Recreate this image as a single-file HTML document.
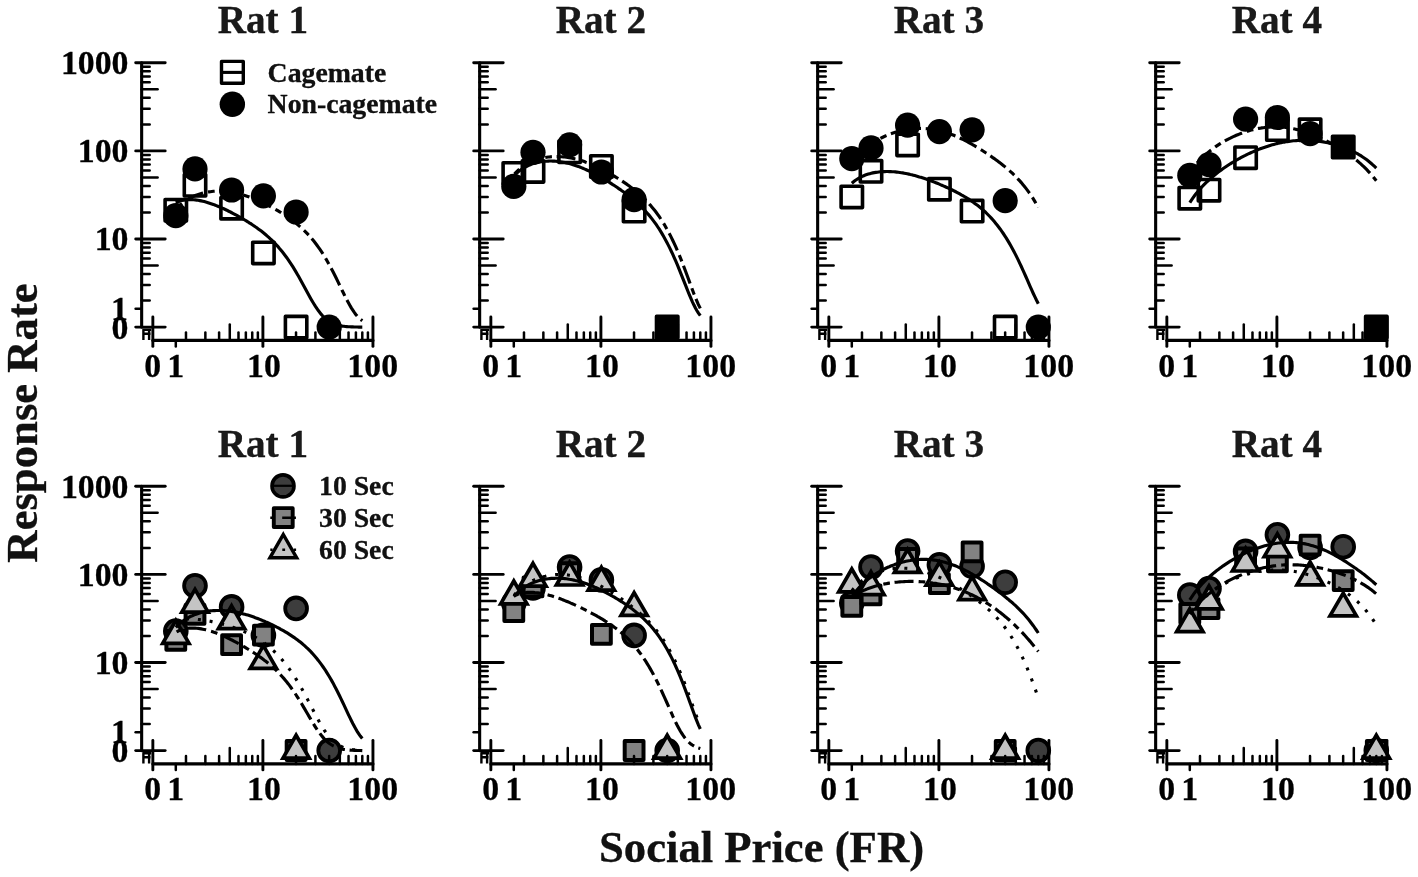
<!DOCTYPE html>
<html><head><meta charset="utf-8"><title>Figure</title>
<style>html,body{margin:0;padding:0;background:#fff}svg{display:block;will-change:transform}text{font-family:"Liberation Serif",serif;font-weight:bold;fill:#000;stroke:#000;stroke-width:0.3px}.tk{font-size:33.8px}.tt{font-size:39.2px;fill:#1a1a1a}.lg{font-size:27.75px;fill:#111}.ax{font-size:44.7px;fill:#111}</style></head><body>
<svg width="1418" height="877" viewBox="0 0 1418 877">
<rect width="1418" height="877" fill="#fff"/>
<defs><g id="ax" stroke="#000" stroke-linecap="round"><line x1="141.65" y1="62.80" x2="141.65" y2="327.10" stroke-width="3.1"/>
<line x1="152.85" y1="340.40" x2="372.95" y2="340.40" stroke-width="3.1"/>
<line x1="135.70" y1="327.10" x2="165.20" y2="327.10" stroke-width="2.9"/>
<line x1="135.70" y1="239.00" x2="165.20" y2="239.00" stroke-width="2.9"/>
<line x1="135.70" y1="150.90" x2="165.20" y2="150.90" stroke-width="2.9"/>
<line x1="135.70" y1="62.80" x2="165.20" y2="62.80" stroke-width="2.9"/>
<line x1="141.65" y1="300.58" x2="149.70" y2="300.58" stroke-width="2.5"/>
<line x1="141.65" y1="285.07" x2="149.70" y2="285.07" stroke-width="2.5"/>
<line x1="141.65" y1="274.06" x2="149.70" y2="274.06" stroke-width="2.5"/>
<line x1="141.65" y1="265.52" x2="157.60" y2="265.52" stroke-width="2.5"/>
<line x1="141.65" y1="258.54" x2="149.70" y2="258.54" stroke-width="2.5"/>
<line x1="141.65" y1="252.65" x2="149.70" y2="252.65" stroke-width="2.5"/>
<line x1="141.65" y1="247.54" x2="149.70" y2="247.54" stroke-width="2.5"/>
<line x1="141.65" y1="243.03" x2="149.70" y2="243.03" stroke-width="2.5"/>
<line x1="141.65" y1="212.48" x2="149.70" y2="212.48" stroke-width="2.5"/>
<line x1="141.65" y1="196.97" x2="149.70" y2="196.97" stroke-width="2.5"/>
<line x1="141.65" y1="185.96" x2="149.70" y2="185.96" stroke-width="2.5"/>
<line x1="141.65" y1="177.42" x2="157.60" y2="177.42" stroke-width="2.5"/>
<line x1="141.65" y1="170.44" x2="149.70" y2="170.44" stroke-width="2.5"/>
<line x1="141.65" y1="164.55" x2="149.70" y2="164.55" stroke-width="2.5"/>
<line x1="141.65" y1="159.44" x2="149.70" y2="159.44" stroke-width="2.5"/>
<line x1="141.65" y1="154.93" x2="149.70" y2="154.93" stroke-width="2.5"/>
<line x1="141.65" y1="124.38" x2="149.70" y2="124.38" stroke-width="2.5"/>
<line x1="141.65" y1="108.87" x2="149.70" y2="108.87" stroke-width="2.5"/>
<line x1="141.65" y1="97.86" x2="149.70" y2="97.86" stroke-width="2.5"/>
<line x1="141.65" y1="89.32" x2="157.60" y2="89.32" stroke-width="2.5"/>
<line x1="141.65" y1="82.34" x2="149.70" y2="82.34" stroke-width="2.5"/>
<line x1="141.65" y1="76.45" x2="149.70" y2="76.45" stroke-width="2.5"/>
<line x1="141.65" y1="71.34" x2="149.70" y2="71.34" stroke-width="2.5"/>
<line x1="141.65" y1="66.83" x2="149.70" y2="66.83" stroke-width="2.5"/>
<line x1="135.60" y1="308.70" x2="141.65" y2="308.70" stroke-width="2.5"/>
<line x1="152.85" y1="317.00" x2="152.85" y2="346.40" stroke-width="2.9"/>
<line x1="262.90" y1="317.00" x2="262.90" y2="346.40" stroke-width="2.9"/>
<line x1="372.95" y1="317.00" x2="372.95" y2="346.40" stroke-width="2.9"/>
<line x1="185.98" y1="332.40" x2="185.98" y2="340.40" stroke-width="2.5"/>
<line x1="205.36" y1="332.40" x2="205.36" y2="340.40" stroke-width="2.5"/>
<line x1="219.11" y1="332.40" x2="219.11" y2="340.40" stroke-width="2.5"/>
<line x1="229.77" y1="324.40" x2="229.77" y2="340.40" stroke-width="2.5"/>
<line x1="238.49" y1="332.40" x2="238.49" y2="340.40" stroke-width="2.5"/>
<line x1="245.85" y1="332.40" x2="245.85" y2="340.40" stroke-width="2.5"/>
<line x1="252.24" y1="332.40" x2="252.24" y2="340.40" stroke-width="2.5"/>
<line x1="257.86" y1="332.40" x2="257.86" y2="340.40" stroke-width="2.5"/>
<line x1="296.03" y1="332.40" x2="296.03" y2="340.40" stroke-width="2.5"/>
<line x1="315.41" y1="332.40" x2="315.41" y2="340.40" stroke-width="2.5"/>
<line x1="329.16" y1="332.40" x2="329.16" y2="340.40" stroke-width="2.5"/>
<line x1="339.82" y1="324.40" x2="339.82" y2="340.40" stroke-width="2.5"/>
<line x1="348.54" y1="332.40" x2="348.54" y2="340.40" stroke-width="2.5"/>
<line x1="355.90" y1="332.40" x2="355.90" y2="340.40" stroke-width="2.5"/>
<line x1="362.29" y1="332.40" x2="362.29" y2="340.40" stroke-width="2.5"/>
<line x1="367.91" y1="332.40" x2="367.91" y2="340.40" stroke-width="2.5"/>
<line x1="175.80" y1="340.40" x2="175.80" y2="346.40" stroke-width="2.5"/>
<path d="M142.3 329.7H151.2 M143.4 329.7V340 M149.1 329.7V340 M143.4 333.8H150.6" stroke-width="2.4" fill="none" stroke-linecap="butt"/></g><g id="xl"><text x="152.7" y="376.6" text-anchor="middle" class="tk">0</text>
<text x="175.7" y="376.6" text-anchor="middle" class="tk">1</text>
<text x="263.9" y="376.6" text-anchor="middle" class="tk">10</text>
<text x="372.7" y="376.6" text-anchor="middle" class="tk">100</text></g><g id="yl"><text x="128.5" y="338.55" text-anchor="end" class="tk">0</text>
<text x="128.5" y="250.45" text-anchor="end" class="tk">10</text>
<text x="128.5" y="162.35" text-anchor="end" class="tk">100</text>
<text x="128.5" y="74.25" text-anchor="end" class="tk">1000</text>
<text x="128.0" y="319.95" text-anchor="end" class="tk">1</text></g></defs>
<g><rect x="165.1" y="199.5" width="21.4" height="21.4" fill="none" stroke="#000" stroke-width="3.6" stroke-linejoin="round"/><rect x="184.3" y="174.6" width="21.4" height="21.4" fill="none" stroke="#000" stroke-width="3.6" stroke-linejoin="round"/><rect x="220.9" y="197.5" width="21.4" height="21.4" fill="none" stroke="#000" stroke-width="3.6" stroke-linejoin="round"/><rect x="252.7" y="242.2" width="21.4" height="21.4" fill="none" stroke="#000" stroke-width="3.6" stroke-linejoin="round"/><rect x="285.4" y="316.4" width="21.4" height="21.4" fill="none" stroke="#000" stroke-width="3.6" stroke-linejoin="round"/><circle cx="175.8" cy="215.7" r="12.6" fill="#000"/><circle cx="195" cy="168.9" r="12.6" fill="#000"/><circle cx="231.6" cy="190" r="12.6" fill="#000"/><circle cx="263.4" cy="195.8" r="12.6" fill="#000"/><circle cx="296.1" cy="212" r="12.6" fill="#000"/><circle cx="329.2" cy="327.1" r="12.6" fill="#000"/></g>
<g><rect x="503.1" y="162.7" width="21.4" height="21.4" fill="none" stroke="#000" stroke-width="3.6" stroke-linejoin="round"/><rect x="522.3" y="160.7" width="21.4" height="21.4" fill="none" stroke="#000" stroke-width="3.6" stroke-linejoin="round"/><rect x="558.9" y="141.1" width="21.4" height="21.4" fill="none" stroke="#000" stroke-width="3.6" stroke-linejoin="round"/><rect x="590.7" y="155.8" width="21.4" height="21.4" fill="none" stroke="#000" stroke-width="3.6" stroke-linejoin="round"/><rect x="623.4" y="200.4" width="21.4" height="21.4" fill="none" stroke="#000" stroke-width="3.6" stroke-linejoin="round"/><rect x="656.5" y="316.4" width="21.4" height="21.4" fill="#000" stroke="#000" stroke-width="3.6" stroke-linejoin="round"/><circle cx="513.8" cy="186.4" r="12.6" fill="#000"/><circle cx="533" cy="152.3" r="12.6" fill="#000"/><circle cx="569.6" cy="144.8" r="12.6" fill="#000"/><circle cx="601.4" cy="172" r="12.6" fill="#000"/><circle cx="634.1" cy="199.6" r="12.6" fill="#000"/></g>
<g><rect x="841.1" y="186.2" width="21.4" height="21.4" fill="none" stroke="#000" stroke-width="3.6" stroke-linejoin="round"/><rect x="860.3" y="160.6" width="21.4" height="21.4" fill="none" stroke="#000" stroke-width="3.6" stroke-linejoin="round"/><rect x="896.9" y="134.2" width="21.4" height="21.4" fill="none" stroke="#000" stroke-width="3.6" stroke-linejoin="round"/><rect x="928.7" y="178.5" width="21.4" height="21.4" fill="none" stroke="#000" stroke-width="3.6" stroke-linejoin="round"/><rect x="961.4" y="200.4" width="21.4" height="21.4" fill="none" stroke="#000" stroke-width="3.6" stroke-linejoin="round"/><rect x="994.5" y="316.4" width="21.4" height="21.4" fill="none" stroke="#000" stroke-width="3.6" stroke-linejoin="round"/><circle cx="851.8" cy="158.7" r="12.6" fill="#000"/><circle cx="871" cy="147.9" r="12.6" fill="#000"/><circle cx="907.6" cy="125.2" r="12.6" fill="#000"/><circle cx="939.4" cy="131.6" r="12.6" fill="#000"/><circle cx="972.1" cy="129.8" r="12.6" fill="#000"/><circle cx="1005.2" cy="200.7" r="12.6" fill="#000"/><circle cx="1038.3" cy="327.1" r="12.6" fill="#000"/></g>
<g><rect x="1179.1" y="187.5" width="21.4" height="21.4" fill="none" stroke="#000" stroke-width="3.6" stroke-linejoin="round"/><rect x="1198.3" y="179.5" width="21.4" height="21.4" fill="none" stroke="#000" stroke-width="3.6" stroke-linejoin="round"/><rect x="1234.9" y="147" width="21.4" height="21.4" fill="none" stroke="#000" stroke-width="3.6" stroke-linejoin="round"/><rect x="1266.7" y="118.9" width="21.4" height="21.4" fill="none" stroke="#000" stroke-width="3.6" stroke-linejoin="round"/><rect x="1299.4" y="119.1" width="21.4" height="21.4" fill="none" stroke="#000" stroke-width="3.6" stroke-linejoin="round"/><rect x="1332.5" y="136.3" width="21.4" height="21.4" fill="#000" stroke="#000" stroke-width="3.6" stroke-linejoin="round"/><rect x="1365.6" y="316.4" width="21.4" height="21.4" fill="#000" stroke="#000" stroke-width="3.6" stroke-linejoin="round"/><circle cx="1189.8" cy="175.4" r="12.6" fill="#000"/><circle cx="1209" cy="164.7" r="12.6" fill="#000"/><circle cx="1245.6" cy="119.1" r="12.6" fill="#000"/><circle cx="1277.4" cy="117.5" r="12.6" fill="#000"/><circle cx="1310.1" cy="133.7" r="12.6" fill="#000"/></g>
<g><circle cx="175.8" cy="631" r="10.9" fill="#3d3d3d" stroke="#000" stroke-width="3.8"/><circle cx="195" cy="585.7" r="10.9" fill="#3d3d3d" stroke="#000" stroke-width="3.8"/><circle cx="231.6" cy="606.9" r="10.9" fill="#3d3d3d" stroke="#000" stroke-width="3.8"/><circle cx="263.4" cy="635.2" r="10.9" fill="#3d3d3d" stroke="#000" stroke-width="3.8"/><circle cx="296.1" cy="608.4" r="10.9" fill="#3d3d3d" stroke="#000" stroke-width="3.8"/><circle cx="329.2" cy="750.5" r="10.9" fill="#3d3d3d" stroke="#000" stroke-width="3.8"/><rect x="166.4" y="631" width="18.8" height="18.8" fill="#828282" stroke="#000" stroke-width="4.0" stroke-linejoin="round"/><rect x="185.6" y="605" width="18.8" height="18.8" fill="#828282" stroke="#000" stroke-width="4.0" stroke-linejoin="round"/><rect x="222.2" y="635.3" width="18.8" height="18.8" fill="#828282" stroke="#000" stroke-width="4.0" stroke-linejoin="round"/><rect x="254" y="625.8" width="18.8" height="18.8" fill="#828282" stroke="#000" stroke-width="4.0" stroke-linejoin="round"/><rect x="286.7" y="741.1" width="18.8" height="18.8" fill="#828282" stroke="#000" stroke-width="4.0" stroke-linejoin="round"/><path d="M175.8 620.5 L189 643.3 L162.7 643.3Z" fill="#c4c4c4" stroke="#000" stroke-width="3.7"/><path d="M195 589.4 L208.1 612.2 L181.8 612.2Z" fill="#c4c4c4" stroke="#000" stroke-width="3.7"/><path d="M231.6 605.8 L244.7 628.6 L218.4 628.6Z" fill="#c4c4c4" stroke="#000" stroke-width="3.7"/><path d="M263.4 645.6 L276.5 668.4 L250.2 668.4Z" fill="#c4c4c4" stroke="#000" stroke-width="3.7"/><path d="M296.1 735.3 L309.3 758.1 L283 758.1Z" fill="#c4c4c4" stroke="#000" stroke-width="3.7"/></g>
<g><circle cx="513.8" cy="603" r="10.9" fill="#3d3d3d" stroke="#000" stroke-width="3.8"/><circle cx="533" cy="588" r="10.9" fill="#3d3d3d" stroke="#000" stroke-width="3.8"/><circle cx="569.6" cy="567.1" r="10.9" fill="#3d3d3d" stroke="#000" stroke-width="3.8"/><circle cx="601.4" cy="579.9" r="10.9" fill="#3d3d3d" stroke="#000" stroke-width="3.8"/><circle cx="634.1" cy="635.4" r="10.9" fill="#3d3d3d" stroke="#000" stroke-width="3.8"/><circle cx="667.2" cy="750.5" r="10.9" fill="#3d3d3d" stroke="#000" stroke-width="3.8"/><rect x="504.4" y="602.3" width="18.8" height="18.8" fill="#828282" stroke="#000" stroke-width="4.0" stroke-linejoin="round"/><rect x="523.6" y="577.5" width="18.8" height="18.8" fill="#828282" stroke="#000" stroke-width="4.0" stroke-linejoin="round"/><rect x="560.2" y="563.3" width="18.8" height="18.8" fill="#828282" stroke="#000" stroke-width="4.0" stroke-linejoin="round"/><rect x="592" y="624.9" width="18.8" height="18.8" fill="#828282" stroke="#000" stroke-width="4.0" stroke-linejoin="round"/><rect x="624.7" y="741.1" width="18.8" height="18.8" fill="#828282" stroke="#000" stroke-width="4.0" stroke-linejoin="round"/><path d="M513.8 581 L527 603.8 L500.7 603.8Z" fill="#c4c4c4" stroke="#000" stroke-width="3.7"/><path d="M533 563.3 L546.1 586.1 L519.8 586.1Z" fill="#c4c4c4" stroke="#000" stroke-width="3.7"/><path d="M569.6 562.2 L582.7 585 L556.4 585Z" fill="#c4c4c4" stroke="#000" stroke-width="3.7"/><path d="M601.4 567.3 L614.5 590.1 L588.2 590.1Z" fill="#c4c4c4" stroke="#000" stroke-width="3.7"/><path d="M634.1 592.6 L647.3 615.4 L621 615.4Z" fill="#c4c4c4" stroke="#000" stroke-width="3.7"/><path d="M667.2 735.3 L680.4 758.1 L654 758.1Z" fill="#c4c4c4" stroke="#000" stroke-width="3.7"/></g>
<g><circle cx="851.8" cy="603" r="10.9" fill="#3d3d3d" stroke="#000" stroke-width="3.8"/><circle cx="871" cy="567.1" r="10.9" fill="#3d3d3d" stroke="#000" stroke-width="3.8"/><circle cx="907.6" cy="551.1" r="10.9" fill="#3d3d3d" stroke="#000" stroke-width="3.8"/><circle cx="939.4" cy="564.7" r="10.9" fill="#3d3d3d" stroke="#000" stroke-width="3.8"/><circle cx="972.1" cy="566.3" r="10.9" fill="#3d3d3d" stroke="#000" stroke-width="3.8"/><circle cx="1005.2" cy="582.3" r="10.9" fill="#3d3d3d" stroke="#000" stroke-width="3.8"/><circle cx="1038.3" cy="750.5" r="10.9" fill="#3d3d3d" stroke="#000" stroke-width="3.8"/><rect x="842.4" y="597" width="18.8" height="18.8" fill="#828282" stroke="#000" stroke-width="4.0" stroke-linejoin="round"/><rect x="861.6" y="585.5" width="18.8" height="18.8" fill="#828282" stroke="#000" stroke-width="4.0" stroke-linejoin="round"/><rect x="898.2" y="548.9" width="18.8" height="18.8" fill="#828282" stroke="#000" stroke-width="4.0" stroke-linejoin="round"/><rect x="930" y="574.3" width="18.8" height="18.8" fill="#828282" stroke="#000" stroke-width="4.0" stroke-linejoin="round"/><rect x="962.7" y="542.4" width="18.8" height="18.8" fill="#828282" stroke="#000" stroke-width="4.0" stroke-linejoin="round"/><rect x="995.8" y="741.1" width="18.8" height="18.8" fill="#828282" stroke="#000" stroke-width="4.0" stroke-linejoin="round"/><path d="M851.8 569 L865 591.8 L838.7 591.8Z" fill="#c4c4c4" stroke="#000" stroke-width="3.7"/><path d="M871 571.8 L884.1 594.6 L857.8 594.6Z" fill="#c4c4c4" stroke="#000" stroke-width="3.7"/><path d="M907.6 549.5 L920.7 572.3 L894.4 572.3Z" fill="#c4c4c4" stroke="#000" stroke-width="3.7"/><path d="M939.4 562.3 L952.5 585.1 L926.2 585.1Z" fill="#c4c4c4" stroke="#000" stroke-width="3.7"/><path d="M972.1 576.9 L985.3 599.7 L959 599.7Z" fill="#c4c4c4" stroke="#000" stroke-width="3.7"/><path d="M1005.2 735.3 L1018.4 758.1 L992 758.1Z" fill="#c4c4c4" stroke="#000" stroke-width="3.7"/></g>
<g><circle cx="1189.8" cy="595" r="10.9" fill="#3d3d3d" stroke="#000" stroke-width="3.8"/><circle cx="1209" cy="588.6" r="10.9" fill="#3d3d3d" stroke="#000" stroke-width="3.8"/><circle cx="1245.6" cy="551.4" r="10.9" fill="#3d3d3d" stroke="#000" stroke-width="3.8"/><circle cx="1277.4" cy="534.8" r="10.9" fill="#3d3d3d" stroke="#000" stroke-width="3.8"/><circle cx="1310.1" cy="547.4" r="10.9" fill="#3d3d3d" stroke="#000" stroke-width="3.8"/><circle cx="1343.2" cy="546.7" r="10.9" fill="#3d3d3d" stroke="#000" stroke-width="3.8"/><circle cx="1376.3" cy="750.5" r="10.9" fill="#3d3d3d" stroke="#000" stroke-width="3.8"/><rect x="1180.4" y="604.1" width="18.8" height="18.8" fill="#828282" stroke="#000" stroke-width="4.0" stroke-linejoin="round"/><rect x="1199.6" y="599.3" width="18.8" height="18.8" fill="#828282" stroke="#000" stroke-width="4.0" stroke-linejoin="round"/><rect x="1236.2" y="548.6" width="18.8" height="18.8" fill="#828282" stroke="#000" stroke-width="4.0" stroke-linejoin="round"/><rect x="1268" y="552.4" width="18.8" height="18.8" fill="#828282" stroke="#000" stroke-width="4.0" stroke-linejoin="round"/><rect x="1300.7" y="535.7" width="18.8" height="18.8" fill="#828282" stroke="#000" stroke-width="4.0" stroke-linejoin="round"/><rect x="1333.8" y="571.3" width="18.8" height="18.8" fill="#828282" stroke="#000" stroke-width="4.0" stroke-linejoin="round"/><rect x="1366.9" y="741.1" width="18.8" height="18.8" fill="#828282" stroke="#000" stroke-width="4.0" stroke-linejoin="round"/><path d="M1189.8 608.8 L1203 631.6 L1176.7 631.6Z" fill="#c4c4c4" stroke="#000" stroke-width="3.7"/><path d="M1209 586 L1222.1 608.8 L1195.8 608.8Z" fill="#c4c4c4" stroke="#000" stroke-width="3.7"/><path d="M1245.6 548.2 L1258.7 571 L1232.4 571Z" fill="#c4c4c4" stroke="#000" stroke-width="3.7"/><path d="M1277.4 533.8 L1290.5 556.6 L1264.2 556.6Z" fill="#c4c4c4" stroke="#000" stroke-width="3.7"/><path d="M1310.1 562 L1323.3 584.8 L1297 584.8Z" fill="#c4c4c4" stroke="#000" stroke-width="3.7"/><path d="M1343.2 593.1 L1356.4 615.9 L1330 615.9Z" fill="#c4c4c4" stroke="#000" stroke-width="3.7"/><path d="M1376.3 735.3 L1389.5 758.1 L1363.1 758.1Z" fill="#c4c4c4" stroke="#000" stroke-width="3.7"/></g>
<path d="M175.8 202.9 L177.3 202.1 L178.8 201.5 L180.3 200.9 L181.8 200.5 L183.3 200.2 L184.8 199.9 L186.3 199.7 L187.8 199.6 L189.3 199.6 L190.8 199.6 L192.3 199.6 L193.8 199.7 L195.3 199.9 L196.8 200.1 L198.3 200.3 L199.8 200.6 L201.3 200.9 L202.8 201.2 L204.3 201.6 L205.8 202 L207.3 202.4 L208.8 202.9 L210.3 203.4 L211.8 203.9 L213.3 204.4 L214.8 205 L216.3 205.6 L217.8 206.2 L219.3 206.8 L220.8 207.5 L222.3 208.1 L223.8 208.8 L225.3 209.5 L226.8 210.2 L228.3 211 L229.8 211.7 L231.3 212.5 L232.8 213.3 L234.3 214.1 L235.8 214.9 L237.3 215.7 L238.8 216.5 L240.3 217.4 L241.8 218.2 L243.3 219.1 L244.8 220 L246.3 220.9 L247.8 221.8 L249.3 222.8 L250.8 223.7 L252.3 224.7 L253.8 225.7 L255.3 226.8 L256.8 227.8 L258.3 228.9 L259.8 230 L261.3 231.1 L262.8 232.3 L264.3 233.5 L265.8 234.8 L267.3 236.1 L268.8 237.4 L270.3 238.8 L271.8 240.2 L273.3 241.7 L274.8 243.2 L276.3 244.8 L277.8 246.4 L279.3 248.2 L280.8 249.9 L282.3 251.8 L283.8 253.7 L285.3 255.7 L286.8 257.7 L288.3 259.9 L289.8 262.1 L291.3 264.3 L292.8 266.7 L294.3 269.1 L295.8 271.6 L297.3 274.2 L298.8 276.8 L300.3 279.5 L301.8 282.2 L303.3 284.9 L304.8 287.7 L306.3 290.5 L307.8 293.2 L309.3 296 L310.8 298.7 L312.3 301.3 L313.8 303.8 L315.3 306.2 L316.8 308.4 L318.3 310.6 L319.8 312.5 L321.3 314.4 L322.8 316 L324.3 317.5 L325.8 318.9 L327.3 320.1 L328.8 321.1 L330.3 322.1 L331.8 322.9 L333.3 323.6 L334.8 324.2 L336.3 324.7 L337.8 325.2 L339.3 325.5 L340.8 325.8 L342.3 326.1 L343.8 326.3 L345.3 326.5 L346.8 326.6 L348.3 326.7 L349.8 326.8 L351.3 326.9 L352.8 326.9 L354.3 327 L355.8 327 L357.3 327 L358.8 327.1 L360.3 327.1 L362.3 327.1" fill="none" stroke="#000" stroke-width="3.15"/>
<path d="M175.8 209.4 L177.3 207.7 L178.8 206.2 L180.3 204.8 L181.8 203.5 L183.3 202.3 L184.8 201.2 L186.3 200.2 L187.8 199.3 L189.3 198.4 L190.8 197.6 L192.3 196.9 L193.8 196.2 L195.3 195.5 L196.8 194.9 L198.3 194.4 L199.8 193.9 L201.3 193.5 L202.8 193.1 L204.3 192.7 L205.8 192.4 L207.3 192.1 L208.8 191.9 L210.3 191.7 L211.8 191.5 L213.3 191.3 L214.8 191.2 L216.3 191.2 L217.8 191.1 L219.3 191.1 L220.8 191.1 L222.3 191.2 L223.8 191.3 L225.3 191.4 L226.8 191.5 L228.3 191.7 L229.8 191.9 L231.3 192.1 L232.8 192.4 L234.3 192.7 L235.8 193 L237.3 193.3 L238.8 193.7 L240.3 194.1 L241.8 194.5 L243.3 194.9 L244.8 195.4 L246.3 195.9 L247.8 196.4 L249.3 196.9 L250.8 197.5 L252.3 198.1 L253.8 198.7 L255.3 199.3 L256.8 199.9 L258.3 200.6 L259.8 201.2 L261.3 201.9 L262.8 202.6 L264.3 203.4 L265.8 204.1 L267.3 204.9 L268.8 205.7 L270.3 206.5 L271.8 207.3 L273.3 208.1 L274.8 209 L276.3 209.8 L277.8 210.7 L279.3 211.6 L280.8 212.5 L282.3 213.5 L283.8 214.4 L285.3 215.4 L286.8 216.4 L288.3 217.5 L289.8 218.5 L291.3 219.6 L292.8 220.7 L294.3 221.9 L295.8 223.1 L297.3 224.3 L298.8 225.6 L300.3 226.9 L301.8 228.2 L303.3 229.7 L304.8 231.1 L306.3 232.6 L307.8 234.2 L309.3 235.8 L310.8 237.5 L312.3 239.3 L313.8 241.1 L315.3 243 L316.8 245 L318.3 247.1 L319.8 249.2 L321.3 251.4 L322.8 253.7 L324.3 256.1 L325.8 258.6 L327.3 261.2 L328.8 263.9 L330.3 266.6 L331.8 269.4 L333.3 272.3 L334.8 275.3 L336.3 278.3 L337.8 281.4 L339.3 284.5 L340.8 287.7 L342.3 290.8 L343.8 293.8 L345.3 296.9 L346.8 299.8 L348.3 302.6 L349.8 305.3 L351.3 307.9 L352.8 310.2 L354.3 312.4 L355.8 314.4 L357.3 316.2 L358.8 317.8 L360.3 319.2 L362.3 320.8" fill="none" stroke="#000" stroke-width="3.15" stroke-dasharray="6.7 4.7 19 5.1" stroke-dashoffset="33.60"/>
<path d="M513.8 175.9 L515.3 174.4 L516.8 173 L518.3 171.7 L519.8 170.5 L521.3 169.5 L522.8 168.5 L524.3 167.6 L525.8 166.8 L527.3 166 L528.8 165.3 L530.3 164.7 L531.8 164.1 L533.3 163.6 L534.8 163.2 L536.3 162.8 L537.8 162.4 L539.3 162.1 L540.8 161.8 L542.3 161.6 L543.8 161.4 L545.3 161.3 L546.8 161.2 L548.3 161.1 L549.8 161 L551.3 161 L552.8 161.1 L554.3 161.1 L555.8 161.2 L557.3 161.4 L558.8 161.6 L560.3 161.8 L561.8 162 L563.3 162.2 L564.8 162.5 L566.3 162.9 L567.8 163.2 L569.3 163.6 L570.8 164 L572.3 164.4 L573.8 164.9 L575.3 165.4 L576.8 165.9 L578.3 166.4 L579.8 167 L581.3 167.6 L582.8 168.2 L584.3 168.9 L585.8 169.5 L587.3 170.2 L588.8 170.9 L590.3 171.6 L591.8 172.4 L593.3 173.1 L594.8 173.9 L596.3 174.7 L597.8 175.5 L599.3 176.4 L600.8 177.2 L602.3 178.1 L603.8 179 L605.3 179.9 L606.8 180.8 L608.3 181.7 L609.8 182.6 L611.3 183.6 L612.8 184.6 L614.3 185.5 L615.8 186.5 L617.3 187.5 L618.8 188.6 L620.3 189.6 L621.8 190.7 L623.3 191.7 L624.8 192.8 L626.3 194 L627.8 195.1 L629.3 196.3 L630.8 197.5 L632.3 198.7 L633.8 200 L635.3 201.2 L636.8 202.6 L638.3 203.9 L639.8 205.4 L641.3 206.8 L642.8 208.3 L644.3 209.9 L645.8 211.5 L647.3 213.2 L648.8 214.9 L650.3 216.7 L651.8 218.6 L653.3 220.6 L654.8 222.6 L656.3 224.7 L657.8 227 L659.3 229.2 L660.8 231.6 L662.3 234.1 L663.8 236.7 L665.3 239.4 L666.8 242.2 L668.3 245.1 L669.8 248.1 L671.3 251.2 L672.8 254.4 L674.3 257.8 L675.8 261.2 L677.3 264.7 L678.8 268.4 L680.3 272.1 L681.8 275.8 L683.3 279.6 L684.8 283.4 L686.3 287.2 L687.8 291 L689.3 294.7 L690.8 298.2 L692.3 301.6 L693.8 304.8 L695.3 307.8 L696.8 310.5 L698.3 312.9 L700.3 315.7" fill="none" stroke="#000" stroke-width="3.15"/>
<path d="M513.8 174.7 L515.3 173.1 L516.8 171.6 L518.3 170.2 L519.8 168.9 L521.3 167.7 L522.8 166.6 L524.3 165.6 L525.8 164.6 L527.3 163.7 L528.8 162.9 L530.3 162.2 L531.8 161.5 L533.3 160.9 L534.8 160.3 L536.3 159.8 L537.8 159.3 L539.3 158.8 L540.8 158.4 L542.3 158.1 L543.8 157.8 L545.3 157.5 L546.8 157.2 L548.3 157 L549.8 156.9 L551.3 156.7 L552.8 156.6 L554.3 156.6 L555.8 156.6 L557.3 156.6 L558.8 156.6 L560.3 156.7 L561.8 156.7 L563.3 156.9 L564.8 157 L566.3 157.2 L567.8 157.4 L569.3 157.7 L570.8 158 L572.3 158.3 L573.8 158.6 L575.3 159 L576.8 159.3 L578.3 159.7 L579.8 160.2 L581.3 160.6 L582.8 161.1 L584.3 161.6 L585.8 162.2 L587.3 162.7 L588.8 163.3 L590.3 163.9 L591.8 164.6 L593.3 165.2 L594.8 165.9 L596.3 166.6 L597.8 167.3 L599.3 168 L600.8 168.7 L602.3 169.5 L603.8 170.3 L605.3 171.1 L606.8 171.9 L608.3 172.7 L609.8 173.6 L611.3 174.4 L612.8 175.3 L614.3 176.2 L615.8 177.1 L617.3 178 L618.8 179 L620.3 179.9 L621.8 180.9 L623.3 181.9 L624.8 182.9 L626.3 183.9 L627.8 185 L629.3 186.1 L630.8 187.2 L632.3 188.3 L633.8 189.5 L635.3 190.7 L636.8 191.9 L638.3 193.2 L639.8 194.5 L641.3 195.9 L642.8 197.3 L644.3 198.7 L645.8 200.2 L647.3 201.8 L648.8 203.4 L650.3 205.1 L651.8 206.9 L653.3 208.7 L654.8 210.6 L656.3 212.5 L657.8 214.6 L659.3 216.7 L660.8 219 L662.3 221.3 L663.8 223.7 L665.3 226.2 L666.8 228.9 L668.3 231.6 L669.8 234.4 L671.3 237.4 L672.8 240.5 L674.3 243.6 L675.8 246.9 L677.3 250.4 L678.8 253.9 L680.3 257.6 L681.8 261.3 L683.3 265.2 L684.8 269.2 L686.3 273.2 L687.8 277.3 L689.3 281.4 L690.8 285.5 L692.3 289.5 L693.8 293.5 L695.3 297.3 L696.8 300.9 L698.3 304.4 L700.3 308.4" fill="none" stroke="#000" stroke-width="3.15" stroke-dasharray="6.7 4.7 19 5.1" stroke-dashoffset="34.40"/>
<path d="M851.8 183.3 L853.3 182 L854.8 180.8 L856.3 179.7 L857.8 178.8 L859.3 177.9 L860.8 177.1 L862.3 176.4 L863.8 175.7 L865.3 175.1 L866.8 174.6 L868.3 174.1 L869.8 173.7 L871.3 173.3 L872.8 172.9 L874.3 172.6 L875.8 172.4 L877.3 172.2 L878.8 172 L880.3 171.8 L881.8 171.7 L883.3 171.6 L884.8 171.6 L886.3 171.5 L887.8 171.5 L889.3 171.6 L890.8 171.6 L892.3 171.7 L893.8 171.8 L895.3 171.9 L896.8 172.1 L898.3 172.3 L899.8 172.5 L901.3 172.7 L902.8 172.9 L904.3 173.2 L905.8 173.5 L907.3 173.8 L908.8 174.1 L910.3 174.5 L911.8 174.8 L913.3 175.2 L914.8 175.6 L916.3 176 L917.8 176.4 L919.3 176.9 L920.8 177.3 L922.3 177.8 L923.8 178.3 L925.3 178.8 L926.8 179.3 L928.3 179.9 L929.8 180.4 L931.3 181 L932.8 181.5 L934.3 182.1 L935.8 182.7 L937.3 183.3 L938.8 183.9 L940.3 184.6 L941.8 185.2 L943.3 185.9 L944.8 186.5 L946.3 187.2 L947.8 187.9 L949.3 188.6 L950.8 189.3 L952.3 190 L953.8 190.8 L955.3 191.5 L956.8 192.3 L958.3 193.1 L959.8 193.9 L961.3 194.8 L962.8 195.6 L964.3 196.5 L965.8 197.4 L967.3 198.3 L968.8 199.2 L970.3 200.2 L971.8 201.2 L973.3 202.3 L974.8 203.4 L976.3 204.5 L977.8 205.6 L979.3 206.8 L980.8 208 L982.3 209.3 L983.8 210.7 L985.3 212 L986.8 213.5 L988.3 215 L989.8 216.5 L991.3 218.1 L992.8 219.8 L994.3 221.6 L995.8 223.4 L997.3 225.2 L998.8 227.2 L1000.3 229.2 L1001.8 231.3 L1003.3 233.5 L1004.8 235.8 L1006.3 238.1 L1007.8 240.6 L1009.3 243.1 L1010.8 245.7 L1012.3 248.4 L1013.8 251.2 L1015.3 254.1 L1016.8 257.1 L1018.3 260.1 L1019.8 263.3 L1021.3 266.5 L1022.8 269.8 L1024.3 273.1 L1025.8 276.5 L1027.3 279.9 L1028.8 283.4 L1030.3 286.8 L1031.8 290.2 L1033.3 293.5 L1034.8 296.7 L1036.3 299.8 L1038.3 303.7" fill="none" stroke="#000" stroke-width="3.15"/>
<path d="M851.8 163.1 L853.3 161.1 L854.8 159.1 L856.3 157.3 L857.8 155.7 L859.3 154.1 L860.8 152.6 L862.3 151.1 L863.8 149.8 L865.3 148.5 L866.8 147.3 L868.3 146.1 L869.8 145 L871.3 143.9 L872.8 142.9 L874.3 142 L875.8 141 L877.3 140.2 L878.8 139.3 L880.3 138.5 L881.8 137.7 L883.3 137 L884.8 136.3 L886.3 135.6 L887.8 135 L889.3 134.4 L890.8 133.8 L892.3 133.3 L893.8 132.8 L895.3 132.3 L896.8 131.8 L898.3 131.4 L899.8 131 L901.3 130.6 L902.8 130.3 L904.3 130 L905.8 129.7 L907.3 129.5 L908.8 129.2 L910.3 129 L911.8 128.9 L913.3 128.7 L914.8 128.6 L916.3 128.5 L917.8 128.5 L919.3 128.4 L920.8 128.4 L922.3 128.4 L923.8 128.5 L925.3 128.6 L926.8 128.7 L928.3 128.8 L929.8 129 L931.3 129.2 L932.8 129.4 L934.3 129.6 L935.8 129.9 L937.3 130.2 L938.8 130.6 L940.3 130.9 L941.8 131.3 L943.3 131.7 L944.8 132.2 L946.3 132.6 L947.8 133.1 L949.3 133.6 L950.8 134.2 L952.3 134.7 L953.8 135.3 L955.3 136 L956.8 136.6 L958.3 137.3 L959.8 138 L961.3 138.7 L962.8 139.4 L964.3 140.1 L965.8 140.9 L967.3 141.7 L968.8 142.5 L970.3 143.3 L971.8 144.2 L973.3 145 L974.8 145.9 L976.3 146.8 L977.8 147.7 L979.3 148.6 L980.8 149.6 L982.3 150.5 L983.8 151.5 L985.3 152.5 L986.8 153.4 L988.3 154.5 L989.8 155.5 L991.3 156.5 L992.8 157.6 L994.3 158.6 L995.8 159.7 L997.3 160.8 L998.8 161.9 L1000.3 163.1 L1001.8 164.2 L1003.3 165.4 L1004.8 166.6 L1006.3 167.9 L1007.8 169.2 L1009.3 170.5 L1010.8 171.8 L1012.3 173.2 L1013.8 174.7 L1015.3 176.1 L1016.8 177.7 L1018.3 179.3 L1019.8 180.9 L1021.3 182.6 L1022.8 184.4 L1024.3 186.2 L1025.8 188.1 L1027.3 190.1 L1028.8 192.2 L1030.3 194.4 L1031.8 196.6 L1033.3 198.9 L1034.8 201.4 L1036.3 203.9 L1038.3 207.4" fill="none" stroke="#000" stroke-width="3.15" stroke-dasharray="6.7 4.7 19 5.1" stroke-dashoffset="32.80"/>
<path d="M1189.8 202.6 L1191.3 200.3 L1192.8 198.1 L1194.3 196 L1195.8 194 L1197.3 192.2 L1198.8 190.4 L1200.3 188.6 L1201.8 187 L1203.3 185.4 L1204.8 183.9 L1206.3 182.4 L1207.8 181 L1209.3 179.6 L1210.8 178.3 L1212.3 177 L1213.8 175.7 L1215.3 174.5 L1216.8 173.3 L1218.3 172.1 L1219.8 171 L1221.3 169.9 L1222.8 168.8 L1224.3 167.8 L1225.8 166.8 L1227.3 165.8 L1228.8 164.8 L1230.3 163.8 L1231.8 162.9 L1233.3 162 L1234.8 161.1 L1236.3 160.2 L1237.8 159.4 L1239.3 158.5 L1240.8 157.7 L1242.3 156.9 L1243.8 156.1 L1245.3 155.4 L1246.8 154.6 L1248.3 153.9 L1249.8 153.2 L1251.3 152.5 L1252.8 151.9 L1254.3 151.2 L1255.8 150.6 L1257.3 150 L1258.8 149.4 L1260.3 148.8 L1261.8 148.2 L1263.3 147.7 L1264.8 147.2 L1266.3 146.7 L1267.8 146.2 L1269.3 145.7 L1270.8 145.2 L1272.3 144.8 L1273.8 144.4 L1275.3 144 L1276.8 143.6 L1278.3 143.3 L1279.8 143 L1281.3 142.6 L1282.8 142.3 L1284.3 142.1 L1285.8 141.8 L1287.3 141.6 L1288.8 141.4 L1290.3 141.2 L1291.8 141 L1293.3 140.8 L1294.8 140.7 L1296.3 140.6 L1297.8 140.5 L1299.3 140.4 L1300.8 140.3 L1302.3 140.3 L1303.8 140.3 L1305.3 140.3 L1306.8 140.3 L1308.3 140.4 L1309.8 140.4 L1311.3 140.5 L1312.8 140.6 L1314.3 140.7 L1315.8 140.9 L1317.3 141 L1318.8 141.2 L1320.3 141.4 L1321.8 141.7 L1323.3 141.9 L1324.8 142.2 L1326.3 142.5 L1327.8 142.8 L1329.3 143.1 L1330.8 143.4 L1332.3 143.8 L1333.8 144.2 L1335.3 144.6 L1336.8 145.1 L1338.3 145.5 L1339.8 146 L1341.3 146.5 L1342.8 147 L1344.3 147.6 L1345.8 148.2 L1347.3 148.8 L1348.8 149.4 L1350.3 150.1 L1351.8 150.8 L1353.3 151.5 L1354.8 152.3 L1356.3 153.1 L1357.8 153.9 L1359.3 154.8 L1360.8 155.7 L1362.3 156.7 L1363.8 157.7 L1365.3 158.7 L1366.8 159.8 L1368.3 161 L1369.8 162.2 L1371.3 163.5 L1372.8 164.8 L1374.3 166.2 L1376.3 168.1" fill="none" stroke="#000" stroke-width="3.15"/>
<path d="M1189.8 172.7 L1191.3 170.5 L1192.8 168.4 L1194.3 166.4 L1195.8 164.6 L1197.3 162.8 L1198.8 161.2 L1200.3 159.6 L1201.8 158.1 L1203.3 156.6 L1204.8 155.2 L1206.3 153.9 L1207.8 152.6 L1209.3 151.4 L1210.8 150.2 L1212.3 149.1 L1213.8 148 L1215.3 146.9 L1216.8 145.9 L1218.3 144.9 L1219.8 143.9 L1221.3 143 L1222.8 142.1 L1224.3 141.2 L1225.8 140.4 L1227.3 139.6 L1228.8 138.8 L1230.3 138.1 L1231.8 137.3 L1233.3 136.6 L1234.8 136 L1236.3 135.3 L1237.8 134.7 L1239.3 134.1 L1240.8 133.5 L1242.3 132.9 L1243.8 132.4 L1245.3 131.9 L1246.8 131.4 L1248.3 131 L1249.8 130.5 L1251.3 130.1 L1252.8 129.7 L1254.3 129.4 L1255.8 129 L1257.3 128.7 L1258.8 128.4 L1260.3 128.2 L1261.8 127.9 L1263.3 127.7 L1264.8 127.5 L1266.3 127.3 L1267.8 127.2 L1269.3 127.1 L1270.8 127 L1272.3 126.9 L1273.8 126.9 L1275.3 126.9 L1276.8 126.9 L1278.3 126.9 L1279.8 127 L1281.3 127.1 L1282.8 127.2 L1284.3 127.3 L1285.8 127.5 L1287.3 127.7 L1288.8 127.9 L1290.3 128.1 L1291.8 128.4 L1293.3 128.7 L1294.8 129 L1296.3 129.4 L1297.8 129.7 L1299.3 130.1 L1300.8 130.5 L1302.3 131 L1303.8 131.4 L1305.3 131.9 L1306.8 132.4 L1308.3 133 L1309.8 133.5 L1311.3 134.1 L1312.8 134.7 L1314.3 135.3 L1315.8 135.9 L1317.3 136.6 L1318.8 137.3 L1320.3 138 L1321.8 138.7 L1323.3 139.4 L1324.8 140.1 L1326.3 140.9 L1327.8 141.7 L1329.3 142.5 L1330.8 143.3 L1332.3 144.1 L1333.8 145 L1335.3 145.8 L1336.8 146.7 L1338.3 147.6 L1339.8 148.5 L1341.3 149.5 L1342.8 150.4 L1344.3 151.4 L1345.8 152.4 L1347.3 153.4 L1348.8 154.4 L1350.3 155.5 L1351.8 156.6 L1353.3 157.7 L1354.8 158.9 L1356.3 160.1 L1357.8 161.3 L1359.3 162.6 L1360.8 163.9 L1362.3 165.3 L1363.8 166.7 L1365.3 168.2 L1366.8 169.7 L1368.3 171.3 L1369.8 172.9 L1371.3 174.6 L1372.8 176.4 L1374.3 178.3 L1376.3 180.8" fill="none" stroke="#000" stroke-width="3.15" stroke-dasharray="6.7 4.7 19 5.1" stroke-dashoffset="34.65"/>
<path d="M175.8 627.4 L177.3 625.8 L178.8 624.4 L180.3 623.1 L181.8 621.9 L183.3 620.8 L184.8 619.7 L186.3 618.8 L187.8 617.9 L189.3 617.1 L190.8 616.3 L192.3 615.7 L193.8 615 L195.3 614.4 L196.8 613.9 L198.3 613.4 L199.8 613 L201.3 612.6 L202.8 612.2 L204.3 611.9 L205.8 611.6 L207.3 611.3 L208.8 611.1 L210.3 610.9 L211.8 610.8 L213.3 610.6 L214.8 610.6 L216.3 610.5 L217.8 610.5 L219.3 610.5 L220.8 610.5 L222.3 610.5 L223.8 610.6 L225.3 610.7 L226.8 610.8 L228.3 611 L229.8 611.2 L231.3 611.4 L232.8 611.6 L234.3 611.9 L235.8 612.1 L237.3 612.4 L238.8 612.8 L240.3 613.1 L241.8 613.5 L243.3 613.9 L244.8 614.3 L246.3 614.7 L247.8 615.1 L249.3 615.6 L250.8 616.1 L252.3 616.6 L253.8 617.1 L255.3 617.7 L256.8 618.2 L258.3 618.8 L259.8 619.4 L261.3 620 L262.8 620.6 L264.3 621.2 L265.8 621.9 L267.3 622.5 L268.8 623.2 L270.3 623.9 L271.8 624.6 L273.3 625.4 L274.8 626.1 L276.3 626.9 L277.8 627.6 L279.3 628.4 L280.8 629.3 L282.3 630.1 L283.8 630.9 L285.3 631.8 L286.8 632.7 L288.3 633.6 L289.8 634.6 L291.3 635.6 L292.8 636.6 L294.3 637.6 L295.8 638.7 L297.3 639.8 L298.8 640.9 L300.3 642.1 L301.8 643.3 L303.3 644.6 L304.8 645.9 L306.3 647.3 L307.8 648.7 L309.3 650.2 L310.8 651.7 L312.3 653.3 L313.8 655 L315.3 656.7 L316.8 658.5 L318.3 660.4 L319.8 662.4 L321.3 664.4 L322.8 666.5 L324.3 668.7 L325.8 670.9 L327.3 673.3 L328.8 675.7 L330.3 678.3 L331.8 680.9 L333.3 683.6 L334.8 686.4 L336.3 689.3 L337.8 692.2 L339.3 695.3 L340.8 698.4 L342.3 701.5 L343.8 704.7 L345.3 707.9 L346.8 711.1 L348.3 714.3 L349.8 717.4 L351.3 720.5 L352.8 723.5 L354.3 726.3 L355.8 729 L357.3 731.6 L358.8 733.9 L360.3 736.1 L362.3 738.6" fill="none" stroke="#000" stroke-width="3.15"/>
<path d="M175.8 632.4 L177.3 631.5 L178.8 630.7 L180.3 630.1 L181.8 629.6 L183.3 629.1 L184.8 628.8 L186.3 628.5 L187.8 628.3 L189.3 628.1 L190.8 628.1 L192.3 628 L193.8 628.1 L195.3 628.1 L196.8 628.3 L198.3 628.4 L199.8 628.6 L201.3 628.9 L202.8 629.2 L204.3 629.5 L205.8 629.8 L207.3 630.2 L208.8 630.6 L210.3 631.1 L211.8 631.5 L213.3 632 L214.8 632.6 L216.3 633.1 L217.8 633.7 L219.3 634.3 L220.8 634.9 L222.3 635.5 L223.8 636.2 L225.3 636.9 L226.8 637.6 L228.3 638.3 L229.8 639 L231.3 639.8 L232.8 640.5 L234.3 641.3 L235.8 642.1 L237.3 642.9 L238.8 643.8 L240.3 644.6 L241.8 645.4 L243.3 646.3 L244.8 647.2 L246.3 648.1 L247.8 649 L249.3 649.9 L250.8 650.9 L252.3 651.8 L253.8 652.8 L255.3 653.8 L256.8 654.8 L258.3 655.8 L259.8 656.9 L261.3 657.9 L262.8 659 L264.3 660.2 L265.8 661.3 L267.3 662.5 L268.8 663.7 L270.3 665 L271.8 666.3 L273.3 667.6 L274.8 669 L276.3 670.5 L277.8 672 L279.3 673.5 L280.8 675.1 L282.3 676.7 L283.8 678.4 L285.3 680.2 L286.8 682 L288.3 683.9 L289.8 685.9 L291.3 688 L292.8 690.1 L294.3 692.2 L295.8 694.5 L297.3 696.8 L298.8 699.1 L300.3 701.6 L301.8 704 L303.3 706.6 L304.8 709.1 L306.3 711.7 L307.8 714.3 L309.3 716.9 L310.8 719.4 L312.3 721.9 L313.8 724.4 L315.3 726.8 L316.8 729.1 L318.3 731.3 L319.8 733.3 L321.3 735.3 L322.8 737.1 L324.3 738.8 L325.8 740.3 L327.3 741.7 L328.8 742.9 L330.3 744 L331.8 745 L333.3 745.9 L334.8 746.6 L336.3 747.3 L337.8 747.8 L339.3 748.3 L340.8 748.7 L342.3 749.1 L343.8 749.4 L345.3 749.6 L346.8 749.8 L348.3 750 L349.8 750.1 L351.3 750.2 L352.8 750.3 L354.3 750.4 L355.8 750.4 L357.3 750.5 L358.8 750.5 L360.3 750.5 L362.3 750.6" fill="none" stroke="#000" stroke-width="3.15" stroke-dasharray="6.7 4.7 19 5.1" stroke-dashoffset="34.60"/>
<path d="M175.8 621.1 L177.3 620.6 L178.8 620.2 L180.3 619.8 L181.8 619.5 L183.3 619.3 L184.8 619.2 L186.3 619.1 L187.8 619 L189.3 619 L190.8 619 L192.3 619 L193.8 619.1 L195.3 619.2 L196.8 619.3 L198.3 619.5 L199.8 619.6 L201.3 619.8 L202.8 620 L204.3 620.3 L205.8 620.5 L207.3 620.8 L208.8 621 L210.3 621.3 L211.8 621.6 L213.3 621.9 L214.8 622.3 L216.3 622.6 L217.8 623 L219.3 623.3 L220.8 623.7 L222.3 624.1 L223.8 624.5 L225.3 624.9 L226.8 625.4 L228.3 625.8 L229.8 626.3 L231.3 626.8 L232.8 627.3 L234.3 627.8 L235.8 628.3 L237.3 628.9 L238.8 629.4 L240.3 630 L241.8 630.6 L243.3 631.2 L244.8 631.9 L246.3 632.6 L247.8 633.3 L249.3 634 L250.8 634.8 L252.3 635.5 L253.8 636.4 L255.3 637.2 L256.8 638.1 L258.3 639 L259.8 640 L261.3 641 L262.8 642 L264.3 643.1 L265.8 644.2 L267.3 645.4 L268.8 646.6 L270.3 647.9 L271.8 649.2 L273.3 650.6 L274.8 652 L276.3 653.5 L277.8 655 L279.3 656.6 L280.8 658.3 L282.3 660 L283.8 661.8 L285.3 663.7 L286.8 665.6 L288.3 667.6 L289.8 669.7 L291.3 671.8 L292.8 674 L294.3 676.3 L295.8 678.6 L297.3 681.1 L298.8 683.6 L300.3 686.1 L301.8 688.8 L303.3 691.5 L304.8 694.2 L306.3 697 L307.8 699.9 L309.3 702.7 L310.8 705.6 L312.3 708.6 L313.8 711.5 L315.3 714.3 L316.8 717.2 L318.3 720 L319.8 722.7 L321.3 725.3 L322.8 727.8 L324.3 730.2 L325.8 732.4 L327.3 734.4 L328.8 736.3 L330.3 738.1 L331.8 739.7 L333.3 741.1 L334.8 742.4 L336.3 743.6 L337.8 744.6 L339.3 745.5 L340.8 746.3 L342.3 747 L343.8 747.6 L345.3 748.1 L346.8 748.5 L348.3 748.9 L349.8 749.2 L351.3 749.4 L352.8 749.7 L354.3 749.8 L355.8 750 L357.3 750.1 L358.8 750.2 L360.3 750.3 L362.3 750.4" fill="none" stroke="#000" stroke-width="3.15" stroke-dasharray="3 8.83" stroke-dashoffset="1.30"/>
<path d="M513.8 596.5 L515.3 594.9 L516.8 593.3 L518.3 591.9 L519.8 590.6 L521.3 589.4 L522.8 588.3 L524.3 587.3 L525.8 586.4 L527.3 585.5 L528.8 584.7 L530.3 584 L531.8 583.3 L533.3 582.6 L534.8 582 L536.3 581.5 L537.8 581 L539.3 580.6 L540.8 580.2 L542.3 579.8 L543.8 579.5 L545.3 579.2 L546.8 579 L548.3 578.8 L549.8 578.6 L551.3 578.4 L552.8 578.3 L554.3 578.3 L555.8 578.2 L557.3 578.2 L558.8 578.2 L560.3 578.3 L561.8 578.4 L563.3 578.5 L564.8 578.6 L566.3 578.8 L567.8 579 L569.3 579.3 L570.8 579.5 L572.3 579.8 L573.8 580.1 L575.3 580.5 L576.8 580.8 L578.3 581.2 L579.8 581.7 L581.3 582.1 L582.8 582.6 L584.3 583.1 L585.8 583.6 L587.3 584.1 L588.8 584.7 L590.3 585.3 L591.8 585.9 L593.3 586.5 L594.8 587.2 L596.3 587.8 L597.8 588.5 L599.3 589.2 L600.8 590 L602.3 590.7 L603.8 591.5 L605.3 592.2 L606.8 593 L608.3 593.8 L609.8 594.7 L611.3 595.5 L612.8 596.4 L614.3 597.2 L615.8 598.1 L617.3 599 L618.8 599.9 L620.3 600.9 L621.8 601.8 L623.3 602.8 L624.8 603.8 L626.3 604.8 L627.8 605.9 L629.3 606.9 L630.8 608 L632.3 609.1 L633.8 610.3 L635.3 611.4 L636.8 612.7 L638.3 613.9 L639.8 615.2 L641.3 616.5 L642.8 617.9 L644.3 619.3 L645.8 620.8 L647.3 622.3 L648.8 623.9 L650.3 625.5 L651.8 627.2 L653.3 629 L654.8 630.9 L656.3 632.8 L657.8 634.8 L659.3 636.9 L660.8 639.1 L662.3 641.4 L663.8 643.7 L665.3 646.2 L666.8 648.8 L668.3 651.4 L669.8 654.2 L671.3 657.1 L672.8 660.1 L674.3 663.2 L675.8 666.5 L677.3 669.8 L678.8 673.3 L680.3 676.9 L681.8 680.6 L683.3 684.5 L684.8 688.4 L686.3 692.4 L687.8 696.5 L689.3 700.6 L690.8 704.8 L692.3 708.9 L693.8 713 L695.3 717.1 L696.8 720.9 L698.3 724.6 L700.3 729" fill="none" stroke="#000" stroke-width="3.15"/>
<path d="M513.8 595.7 L515.3 593.9 L516.8 592.3 L518.3 590.8 L519.8 589.4 L521.3 588 L522.8 586.8 L524.3 585.7 L525.8 584.6 L527.3 583.7 L528.8 582.7 L530.3 581.9 L531.8 581.1 L533.3 580.4 L534.8 579.7 L536.3 579 L537.8 578.5 L539.3 577.9 L540.8 577.4 L542.3 577 L543.8 576.5 L545.3 576.2 L546.8 575.8 L548.3 575.6 L549.8 575.3 L551.3 575.1 L552.8 574.9 L554.3 574.8 L555.8 574.6 L557.3 574.6 L558.8 574.5 L560.3 574.5 L561.8 574.6 L563.3 574.6 L564.8 574.7 L566.3 574.8 L567.8 575 L569.3 575.2 L570.8 575.4 L572.3 575.7 L573.8 576 L575.3 576.3 L576.8 576.6 L578.3 577 L579.8 577.4 L581.3 577.9 L582.8 578.3 L584.3 578.8 L585.8 579.4 L587.3 579.9 L588.8 580.5 L590.3 581.1 L591.8 581.8 L593.3 582.4 L594.8 583.1 L596.3 583.8 L597.8 584.6 L599.3 585.3 L600.8 586.1 L602.3 586.9 L603.8 587.8 L605.3 588.6 L606.8 589.5 L608.3 590.4 L609.8 591.3 L611.3 592.2 L612.8 593.1 L614.3 594.1 L615.8 595.1 L617.3 596.1 L618.8 597.1 L620.3 598.1 L621.8 599.1 L623.3 600.2 L624.8 601.3 L626.3 602.4 L627.8 603.5 L629.3 604.6 L630.8 605.7 L632.3 606.9 L633.8 608.1 L635.3 609.3 L636.8 610.5 L638.3 611.8 L639.8 613.1 L641.3 614.4 L642.8 615.8 L644.3 617.2 L645.8 618.6 L647.3 620.1 L648.8 621.7 L650.3 623.3 L651.8 624.9 L653.3 626.6 L654.8 628.4 L656.3 630.3 L657.8 632.2 L659.3 634.2 L660.8 636.3 L662.3 638.4 L663.8 640.7 L665.3 643 L666.8 645.5 L668.3 648 L669.8 650.7 L671.3 653.5 L672.8 656.3 L674.3 659.3 L675.8 662.5 L677.3 665.7 L678.8 669.1 L680.3 672.6 L681.8 676.2 L683.3 680 L684.8 683.8 L686.3 687.8 L687.8 691.9 L689.3 696 L690.8 700.2 L692.3 704.5 L693.8 708.7 L695.3 712.9 L696.8 717 L698.3 721 L700.3 725.8" fill="none" stroke="#000" stroke-width="3.15" stroke-dasharray="3 8.83" stroke-dashoffset="11.43"/>
<path d="M513.8 596.1 L515.3 595.3 L516.8 594.7 L518.3 594.1 L519.8 593.7 L521.3 593.3 L522.8 593 L524.3 592.7 L525.8 592.6 L527.3 592.4 L528.8 592.4 L530.3 592.4 L531.8 592.4 L533.3 592.4 L534.8 592.6 L536.3 592.7 L537.8 592.9 L539.3 593.1 L540.8 593.3 L542.3 593.6 L543.8 593.9 L545.3 594.3 L546.8 594.6 L548.3 595 L549.8 595.4 L551.3 595.8 L552.8 596.3 L554.3 596.8 L555.8 597.3 L557.3 597.8 L558.8 598.3 L560.3 598.8 L561.8 599.4 L563.3 600 L564.8 600.6 L566.3 601.2 L567.8 601.8 L569.3 602.4 L570.8 603.1 L572.3 603.7 L573.8 604.4 L575.3 605.1 L576.8 605.8 L578.3 606.5 L579.8 607.2 L581.3 607.9 L582.8 608.7 L584.3 609.4 L585.8 610.2 L587.3 610.9 L588.8 611.7 L590.3 612.5 L591.8 613.3 L593.3 614.1 L594.8 614.9 L596.3 615.7 L597.8 616.6 L599.3 617.4 L600.8 618.3 L602.3 619.2 L603.8 620.1 L605.3 621.1 L606.8 622 L608.3 623 L609.8 624 L611.3 625 L612.8 626.1 L614.3 627.2 L615.8 628.3 L617.3 629.4 L618.8 630.6 L620.3 631.9 L621.8 633.1 L623.3 634.5 L624.8 635.8 L626.3 637.2 L627.8 638.7 L629.3 640.2 L630.8 641.8 L632.3 643.5 L633.8 645.2 L635.3 646.9 L636.8 648.8 L638.3 650.7 L639.8 652.7 L641.3 654.7 L642.8 656.9 L644.3 659.1 L645.8 661.4 L647.3 663.8 L648.8 666.3 L650.3 668.9 L651.8 671.5 L653.3 674.2 L654.8 677.1 L656.3 680 L657.8 683 L659.3 686.1 L660.8 689.3 L662.3 692.5 L663.8 695.8 L665.3 699.1 L666.8 702.5 L668.3 705.9 L669.8 709.4 L671.3 712.7 L672.8 716.1 L674.3 719.3 L675.8 722.5 L677.3 725.5 L678.8 728.3 L680.3 731 L681.8 733.4 L683.3 735.7 L684.8 737.7 L686.3 739.6 L687.8 741.2 L689.3 742.6 L690.8 743.9 L692.3 745 L693.8 745.9 L695.3 746.8 L696.8 747.4 L698.3 748 L700.3 748.6" fill="none" stroke="#000" stroke-width="3.15" stroke-dasharray="6.7 4.7 19 5.1" stroke-dashoffset="0.90"/>
<path d="M851.8 596.7 L853.3 594.6 L854.8 592.6 L856.3 590.8 L857.8 589 L859.3 587.4 L860.8 585.8 L862.3 584.3 L863.8 582.9 L865.3 581.6 L866.8 580.3 L868.3 579.1 L869.8 578 L871.3 576.9 L872.8 575.8 L874.3 574.8 L875.8 573.8 L877.3 572.9 L878.8 572 L880.3 571.1 L881.8 570.3 L883.3 569.5 L884.8 568.7 L886.3 568 L887.8 567.3 L889.3 566.7 L890.8 566 L892.3 565.4 L893.8 564.9 L895.3 564.3 L896.8 563.8 L898.3 563.3 L899.8 562.9 L901.3 562.5 L902.8 562.1 L904.3 561.7 L905.8 561.3 L907.3 561 L908.8 560.7 L910.3 560.5 L911.8 560.2 L913.3 560 L914.8 559.9 L916.3 559.7 L917.8 559.6 L919.3 559.5 L920.8 559.4 L922.3 559.4 L923.8 559.4 L925.3 559.4 L926.8 559.4 L928.3 559.5 L929.8 559.6 L931.3 559.8 L932.8 559.9 L934.3 560.1 L935.8 560.3 L937.3 560.6 L938.8 560.9 L940.3 561.2 L941.8 561.5 L943.3 561.9 L944.8 562.3 L946.3 562.7 L947.8 563.2 L949.3 563.6 L950.8 564.1 L952.3 564.7 L953.8 565.2 L955.3 565.8 L956.8 566.4 L958.3 567.1 L959.8 567.7 L961.3 568.4 L962.8 569.2 L964.3 569.9 L965.8 570.7 L967.3 571.4 L968.8 572.2 L970.3 573.1 L971.8 573.9 L973.3 574.8 L974.8 575.7 L976.3 576.6 L977.8 577.5 L979.3 578.4 L980.8 579.4 L982.3 580.3 L983.8 581.3 L985.3 582.3 L986.8 583.3 L988.3 584.4 L989.8 585.4 L991.3 586.4 L992.8 587.5 L994.3 588.6 L995.8 589.7 L997.3 590.8 L998.8 591.9 L1000.3 593 L1001.8 594.1 L1003.3 595.3 L1004.8 596.5 L1006.3 597.7 L1007.8 598.9 L1009.3 600.2 L1010.8 601.4 L1012.3 602.7 L1013.8 604.1 L1015.3 605.4 L1016.8 606.8 L1018.3 608.3 L1019.8 609.8 L1021.3 611.3 L1022.8 612.9 L1024.3 614.5 L1025.8 616.2 L1027.3 618 L1028.8 619.8 L1030.3 621.7 L1031.8 623.7 L1033.3 625.7 L1034.8 627.8 L1036.3 630 L1038.3 633" fill="none" stroke="#000" stroke-width="3.15"/>
<path d="M851.8 597.7 L853.3 596.5 L854.8 595.5 L856.3 594.5 L857.8 593.5 L859.3 592.7 L860.8 591.9 L862.3 591.1 L863.8 590.4 L865.3 589.8 L866.8 589.1 L868.3 588.5 L869.8 588 L871.3 587.5 L872.8 587 L874.3 586.5 L875.8 586.1 L877.3 585.7 L878.8 585.3 L880.3 584.9 L881.8 584.6 L883.3 584.2 L884.8 583.9 L886.3 583.7 L887.8 583.4 L889.3 583.1 L890.8 582.9 L892.3 582.7 L893.8 582.5 L895.3 582.3 L896.8 582.2 L898.3 582 L899.8 581.9 L901.3 581.8 L902.8 581.7 L904.3 581.6 L905.8 581.5 L907.3 581.5 L908.8 581.4 L910.3 581.4 L911.8 581.4 L913.3 581.4 L914.8 581.4 L916.3 581.5 L917.8 581.5 L919.3 581.6 L920.8 581.7 L922.3 581.8 L923.8 581.9 L925.3 582 L926.8 582.2 L928.3 582.4 L929.8 582.5 L931.3 582.7 L932.8 583 L934.3 583.2 L935.8 583.4 L937.3 583.7 L938.8 584 L940.3 584.3 L941.8 584.6 L943.3 584.9 L944.8 585.3 L946.3 585.6 L947.8 586 L949.3 586.4 L950.8 586.9 L952.3 587.3 L953.8 587.8 L955.3 588.2 L956.8 588.7 L958.3 589.2 L959.8 589.8 L961.3 590.3 L962.8 590.9 L964.3 591.5 L965.8 592.1 L967.3 592.8 L968.8 593.4 L970.3 594.1 L971.8 594.8 L973.3 595.5 L974.8 596.3 L976.3 597 L977.8 597.8 L979.3 598.6 L980.8 599.5 L982.3 600.3 L983.8 601.2 L985.3 602.1 L986.8 603.1 L988.3 604 L989.8 605 L991.3 606 L992.8 607 L994.3 608.1 L995.8 609.1 L997.3 610.2 L998.8 611.4 L1000.3 612.5 L1001.8 613.7 L1003.3 614.9 L1004.8 616.2 L1006.3 617.4 L1007.8 618.7 L1009.3 620 L1010.8 621.4 L1012.3 622.8 L1013.8 624.2 L1015.3 625.6 L1016.8 627.1 L1018.3 628.6 L1019.8 630.1 L1021.3 631.6 L1022.8 633.2 L1024.3 634.8 L1025.8 636.5 L1027.3 638.2 L1028.8 639.9 L1030.3 641.6 L1031.8 643.4 L1033.3 645.2 L1034.8 647.1 L1036.3 648.9 L1038.3 651.4" fill="none" stroke="#000" stroke-width="3.15" stroke-dasharray="6.7 4.7 19 5.1" stroke-dashoffset="0.90"/>
<path d="M851.8 590.8 L853.3 589 L854.8 587.3 L856.3 585.8 L857.8 584.3 L859.3 583 L860.8 581.8 L862.3 580.6 L863.8 579.5 L865.3 578.5 L866.8 577.6 L868.3 576.7 L869.8 575.9 L871.3 575.1 L872.8 574.4 L874.3 573.7 L875.8 573.1 L877.3 572.5 L878.8 571.9 L880.3 571.4 L881.8 571 L883.3 570.5 L884.8 570.1 L886.3 569.8 L887.8 569.5 L889.3 569.2 L890.8 569 L892.3 568.7 L893.8 568.6 L895.3 568.4 L896.8 568.3 L898.3 568.2 L899.8 568.2 L901.3 568.2 L902.8 568.2 L904.3 568.2 L905.8 568.3 L907.3 568.4 L908.8 568.5 L910.3 568.7 L911.8 568.9 L913.3 569.1 L914.8 569.4 L916.3 569.6 L917.8 569.9 L919.3 570.3 L920.8 570.6 L922.3 571 L923.8 571.5 L925.3 571.9 L926.8 572.4 L928.3 572.9 L929.8 573.4 L931.3 574 L932.8 574.5 L934.3 575.1 L935.8 575.8 L937.3 576.4 L938.8 577.1 L940.3 577.8 L941.8 578.5 L943.3 579.2 L944.8 580 L946.3 580.7 L947.8 581.5 L949.3 582.3 L950.8 583.2 L952.3 584 L953.8 584.9 L955.3 585.7 L956.8 586.6 L958.3 587.5 L959.8 588.4 L961.3 589.4 L962.8 590.3 L964.3 591.3 L965.8 592.3 L967.3 593.3 L968.8 594.3 L970.3 595.3 L971.8 596.3 L973.3 597.4 L974.8 598.5 L976.3 599.6 L977.8 600.7 L979.3 601.8 L980.8 603 L982.3 604.2 L983.8 605.4 L985.3 606.7 L986.8 608 L988.3 609.3 L989.8 610.7 L991.3 612.1 L992.8 613.5 L994.3 615 L995.8 616.6 L997.3 618.2 L998.8 619.9 L1000.3 621.6 L1001.8 623.4 L1003.3 625.3 L1004.8 627.3 L1006.3 629.3 L1007.8 631.4 L1009.3 633.6 L1010.8 635.9 L1012.3 638.3 L1013.8 640.8 L1015.3 643.4 L1016.8 646.2 L1018.3 649 L1019.8 651.9 L1021.3 655 L1022.8 658.1 L1024.3 661.4 L1025.8 664.8 L1027.3 668.4 L1028.8 672.1 L1030.3 675.9 L1031.8 679.8 L1033.3 683.8 L1034.8 687.9 L1036.3 692.2 L1038.3 697.7" fill="none" stroke="#000" stroke-width="3.15" stroke-dasharray="3 8.83" stroke-dashoffset="11.63"/>
<path d="M1189.8 599.9 L1191.3 597.5 L1192.8 595.3 L1194.3 593.2 L1195.8 591.3 L1197.3 589.4 L1198.8 587.6 L1200.3 585.9 L1201.8 584.2 L1203.3 582.6 L1204.8 581.1 L1206.3 579.6 L1207.8 578.2 L1209.3 576.8 L1210.8 575.5 L1212.3 574.2 L1213.8 572.9 L1215.3 571.7 L1216.8 570.5 L1218.3 569.4 L1219.8 568.3 L1221.3 567.2 L1222.8 566.1 L1224.3 565.1 L1225.8 564.1 L1227.3 563.1 L1228.8 562.1 L1230.3 561.2 L1231.8 560.3 L1233.3 559.4 L1234.8 558.5 L1236.3 557.7 L1237.8 556.9 L1239.3 556.1 L1240.8 555.3 L1242.3 554.6 L1243.8 553.8 L1245.3 553.1 L1246.8 552.4 L1248.3 551.8 L1249.8 551.1 L1251.3 550.5 L1252.8 549.9 L1254.3 549.3 L1255.8 548.7 L1257.3 548.2 L1258.8 547.7 L1260.3 547.2 L1261.8 546.7 L1263.3 546.2 L1264.8 545.8 L1266.3 545.4 L1267.8 545 L1269.3 544.7 L1270.8 544.3 L1272.3 544 L1273.8 543.7 L1275.3 543.5 L1276.8 543.2 L1278.3 543 L1279.8 542.9 L1281.3 542.7 L1282.8 542.6 L1284.3 542.5 L1285.8 542.4 L1287.3 542.3 L1288.8 542.3 L1290.3 542.3 L1291.8 542.3 L1293.3 542.4 L1294.8 542.5 L1296.3 542.6 L1297.8 542.8 L1299.3 542.9 L1300.8 543.1 L1302.3 543.4 L1303.8 543.6 L1305.3 543.9 L1306.8 544.2 L1308.3 544.6 L1309.8 545 L1311.3 545.4 L1312.8 545.8 L1314.3 546.3 L1315.8 546.7 L1317.3 547.3 L1318.8 547.8 L1320.3 548.4 L1321.8 549 L1323.3 549.6 L1324.8 550.3 L1326.3 550.9 L1327.8 551.6 L1329.3 552.4 L1330.8 553.1 L1332.3 553.9 L1333.8 554.7 L1335.3 555.5 L1336.8 556.3 L1338.3 557.2 L1339.8 558.1 L1341.3 559 L1342.8 559.9 L1344.3 560.8 L1345.8 561.7 L1347.3 562.7 L1348.8 563.7 L1350.3 564.7 L1351.8 565.7 L1353.3 566.7 L1354.8 567.8 L1356.3 568.8 L1357.8 569.9 L1359.3 571 L1360.8 572.1 L1362.3 573.2 L1363.8 574.3 L1365.3 575.5 L1366.8 576.7 L1368.3 577.9 L1369.8 579.1 L1371.3 580.4 L1372.8 581.6 L1374.3 583 L1376.3 584.7" fill="none" stroke="#000" stroke-width="3.15"/>
<path d="M1189.8 614.2 L1191.3 612.1 L1192.8 610 L1194.3 608.1 L1195.8 606.3 L1197.3 604.6 L1198.8 603 L1200.3 601.4 L1201.8 599.9 L1203.3 598.5 L1204.8 597.2 L1206.3 595.8 L1207.8 594.6 L1209.3 593.4 L1210.8 592.2 L1212.3 591.1 L1213.8 590 L1215.3 588.9 L1216.8 587.9 L1218.3 586.9 L1219.8 585.9 L1221.3 585 L1222.8 584.1 L1224.3 583.2 L1225.8 582.3 L1227.3 581.5 L1228.8 580.7 L1230.3 579.9 L1231.8 579.2 L1233.3 578.4 L1234.8 577.7 L1236.3 577 L1237.8 576.3 L1239.3 575.7 L1240.8 575.1 L1242.3 574.4 L1243.8 573.8 L1245.3 573.3 L1246.8 572.7 L1248.3 572.2 L1249.8 571.7 L1251.3 571.2 L1252.8 570.7 L1254.3 570.2 L1255.8 569.8 L1257.3 569.4 L1258.8 569 L1260.3 568.6 L1261.8 568.2 L1263.3 567.8 L1264.8 567.5 L1266.3 567.2 L1267.8 566.9 L1269.3 566.6 L1270.8 566.4 L1272.3 566.1 L1273.8 565.9 L1275.3 565.7 L1276.8 565.5 L1278.3 565.4 L1279.8 565.2 L1281.3 565.1 L1282.8 565 L1284.3 564.9 L1285.8 564.8 L1287.3 564.8 L1288.8 564.7 L1290.3 564.7 L1291.8 564.7 L1293.3 564.8 L1294.8 564.8 L1296.3 564.8 L1297.8 564.9 L1299.3 565 L1300.8 565.1 L1302.3 565.2 L1303.8 565.4 L1305.3 565.5 L1306.8 565.7 L1308.3 565.9 L1309.8 566.1 L1311.3 566.3 L1312.8 566.6 L1314.3 566.8 L1315.8 567.1 L1317.3 567.4 L1318.8 567.7 L1320.3 568 L1321.8 568.3 L1323.3 568.7 L1324.8 569 L1326.3 569.4 L1327.8 569.8 L1329.3 570.2 L1330.8 570.6 L1332.3 571 L1333.8 571.5 L1335.3 572 L1336.8 572.5 L1338.3 573 L1339.8 573.5 L1341.3 574 L1342.8 574.6 L1344.3 575.1 L1345.8 575.7 L1347.3 576.3 L1348.8 577 L1350.3 577.6 L1351.8 578.3 L1353.3 579 L1354.8 579.7 L1356.3 580.5 L1357.8 581.2 L1359.3 582 L1360.8 582.9 L1362.3 583.8 L1363.8 584.7 L1365.3 585.6 L1366.8 586.6 L1368.3 587.6 L1369.8 588.7 L1371.3 589.8 L1372.8 590.9 L1374.3 592.2 L1376.3 593.8" fill="none" stroke="#000" stroke-width="3.15" stroke-dasharray="6.7 4.7 19 5.1" stroke-dashoffset="35.00"/>
<path d="M1189.8 614.4 L1191.3 612.2 L1192.8 610.2 L1194.3 608.3 L1195.8 606.5 L1197.3 604.8 L1198.8 603.1 L1200.3 601.6 L1201.8 600.1 L1203.3 598.7 L1204.8 597.4 L1206.3 596.1 L1207.8 594.8 L1209.3 593.6 L1210.8 592.5 L1212.3 591.4 L1213.8 590.3 L1215.3 589.3 L1216.8 588.3 L1218.3 587.3 L1219.8 586.4 L1221.3 585.5 L1222.8 584.6 L1224.3 583.8 L1225.8 583 L1227.3 582.2 L1228.8 581.5 L1230.3 580.7 L1231.8 580 L1233.3 579.4 L1234.8 578.7 L1236.3 578.1 L1237.8 577.5 L1239.3 576.9 L1240.8 576.3 L1242.3 575.8 L1243.8 575.3 L1245.3 574.8 L1246.8 574.4 L1248.3 573.9 L1249.8 573.5 L1251.3 573.1 L1252.8 572.7 L1254.3 572.4 L1255.8 572.1 L1257.3 571.8 L1258.8 571.5 L1260.3 571.2 L1261.8 571 L1263.3 570.8 L1264.8 570.6 L1266.3 570.4 L1267.8 570.3 L1269.3 570.1 L1270.8 570 L1272.3 570 L1273.8 569.9 L1275.3 569.9 L1276.8 569.9 L1278.3 569.9 L1279.8 569.9 L1281.3 570 L1282.8 570.1 L1284.3 570.2 L1285.8 570.3 L1287.3 570.4 L1288.8 570.6 L1290.3 570.8 L1291.8 571 L1293.3 571.3 L1294.8 571.5 L1296.3 571.8 L1297.8 572.1 L1299.3 572.4 L1300.8 572.7 L1302.3 573.1 L1303.8 573.5 L1305.3 573.9 L1306.8 574.3 L1308.3 574.7 L1309.8 575.2 L1311.3 575.7 L1312.8 576.1 L1314.3 576.7 L1315.8 577.2 L1317.3 577.7 L1318.8 578.3 L1320.3 578.9 L1321.8 579.5 L1323.3 580.1 L1324.8 580.8 L1326.3 581.4 L1327.8 582.1 L1329.3 582.8 L1330.8 583.5 L1332.3 584.3 L1333.8 585.1 L1335.3 585.9 L1336.8 586.7 L1338.3 587.5 L1339.8 588.4 L1341.3 589.3 L1342.8 590.3 L1344.3 591.3 L1345.8 592.3 L1347.3 593.3 L1348.8 594.4 L1350.3 595.5 L1351.8 596.7 L1353.3 597.9 L1354.8 599.2 L1356.3 600.6 L1357.8 601.9 L1359.3 603.4 L1360.8 604.9 L1362.3 606.5 L1363.8 608.1 L1365.3 609.8 L1366.8 611.6 L1368.3 613.5 L1369.8 615.4 L1371.3 617.4 L1372.8 619.5 L1374.3 621.7 L1376.3 624.8" fill="none" stroke="#000" stroke-width="3.15" stroke-dasharray="3 8.83" stroke-dashoffset="11.58"/>
<use href="#yl" x="0" y="0.0"/>
<use href="#ax" x="0" y="0.0"/>
<use href="#xl" x="0" y="0.0"/>
<text x="262.9" y="33.4" text-anchor="middle" class="tt">Rat 1</text>
<use href="#ax" x="338" y="0.0"/>
<use href="#xl" x="338" y="0.0"/>
<text x="600.9" y="33.4" text-anchor="middle" class="tt">Rat 2</text>
<use href="#ax" x="676" y="0.0"/>
<use href="#xl" x="676" y="0.0"/>
<text x="938.9" y="33.4" text-anchor="middle" class="tt">Rat 3</text>
<use href="#ax" x="1014" y="0.0"/>
<use href="#xl" x="1014" y="0.0"/>
<text x="1276.9" y="33.4" text-anchor="middle" class="tt">Rat 4</text>
<use href="#yl" x="0" y="423.5"/>
<use href="#ax" x="0" y="423.5"/>
<use href="#xl" x="0" y="423.5"/>
<text x="262.9" y="456.5" text-anchor="middle" class="tt">Rat 1</text>
<use href="#ax" x="338" y="423.5"/>
<use href="#xl" x="338" y="423.5"/>
<text x="600.9" y="456.5" text-anchor="middle" class="tt">Rat 2</text>
<use href="#ax" x="676" y="423.5"/>
<use href="#xl" x="676" y="423.5"/>
<text x="938.9" y="456.5" text-anchor="middle" class="tt">Rat 3</text>
<use href="#ax" x="1014" y="423.5"/>
<use href="#xl" x="1014" y="423.5"/>
<text x="1276.9" y="456.5" text-anchor="middle" class="tt">Rat 4</text>
<rect x="221.5" y="61.4" width="21.8" height="21.8" fill="none" stroke="#000" stroke-width="3.4" stroke-linejoin="round"/>
<line x1="221" y1="72.4" x2="243.4" y2="72.4" stroke="#000" stroke-width="3.1"/>
<circle cx="232.35" cy="104.3" r="12.7" fill="#000"/>
<text x="267.6" y="81.7" class="lg">Cagemate</text>
<text x="267.6" y="113.1" class="lg">Non-cagemate</text>
<circle cx="283" cy="485.9" r="11.0" fill="#3d3d3d" stroke="#000" stroke-width="3.6"/>
<line x1="271" y1="485.8" x2="295" y2="485.8" stroke="#000" stroke-width="2.2"/>
<rect x="273.8" y="508.15" width="18.9" height="18.9" fill="#828282" stroke="#000" stroke-width="3.9" stroke-linejoin="round"/>
<path d="M270.3 517.7H273 M282.2 517.7H295.9" stroke="#000" stroke-width="2.6" fill="none"/>
<path d="M283.3 534.5 L296.7 557.8 L269.9 557.8Z" fill="#c4c4c4" stroke="#000" stroke-width="3.4"/>
<path d="M270.3 549.8H272.6 M282.3 549.8H285.1 M293.8 549.8H296.1" stroke="#000" stroke-width="2.6" fill="none"/>
<text x="319" y="494.9" class="lg">10 Sec</text>
<text x="319" y="527.0" class="lg">30 Sec</text>
<text x="319" y="558.9" class="lg">60 Sec</text>
<text transform="translate(36.6,423) rotate(-90)" text-anchor="middle" class="ax">Response Rate</text>
<text x="761.5" y="862" text-anchor="middle" class="ax">Social Price (FR)</text>
</svg></body></html>
